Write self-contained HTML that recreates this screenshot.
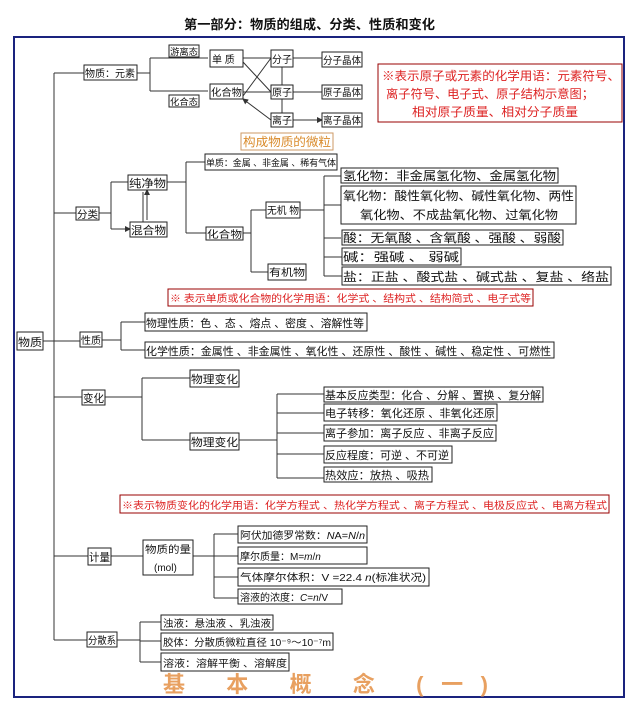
<!DOCTYPE html>
<html><head><meta charset="utf-8"><style>
html,body{margin:0;padding:0;background:#fff;}
svg text{font-family:"Liberation Sans","Noto Sans CJK SC","WenQuanYi Zen Hei",sans-serif;fill:#111;}
</style></head><body>
<svg width="640" height="710" viewBox="0 0 640 710" xmlns="http://www.w3.org/2000/svg">
<defs><marker id="a" markerWidth="6" markerHeight="6" refX="5" refY="3" orient="auto"><path d="M0,0 L6,3 L0,6 z" fill="#333"/></marker></defs>
<text x="184" y="29" font-size="13" font-weight="bold" textLength="251" lengthAdjust="spacingAndGlyphs">第一部分：物质的组成、分类、性质和变化</text>
<rect x="14" y="37" width="610" height="660" fill="none" stroke="#1a237e" stroke-width="2"/>
<g stroke="#333" stroke-width="1" fill="none">
<!-- trunk -->
<path d="M54 73V640 M54 73H84 M54 213H76 M43 341H80 M54 397H82 M54 556H88 M54 640H87"/>
<!-- element -->
<path d="M137 73H150 M150 58V91 M150 58H208 M150 91H208" />
<path d="M293 58H322 M293 92H322 M293 120H322" marker-end="url(#a)"/>
<path d="M271 58H243 M271 92H243 M282 85V67 M282 99V113 M271 92L243 62 M271 58L243 96 M271 120L243 99" marker-end="url(#a)"/>
<!-- classification -->
<path d="M99 213H111 M111 182V229"/>
<path d="M111 182H128 M111 229H130" marker-end="url(#a)"/>
<path d="M143 192V222 M147 220V190" marker-end="url(#a)"/>
<path d="M167 182H186 M186 162V233 M186 162H205 M186 233H206 M243 233H251 M251 210V272 M251 210H266 M251 272H268 M300 210H324 M324 176V276 M324 176H341 M324 205H341 M324 238H341 M324 257H342 M324 276H342"/>
<!-- properties -->
<path d="M102 340H121 M121 322V350 M121 322H145 M121 350H145"/>
<!-- change -->
<path d="M105 397H142 M142 378V440 M142 378H190 M142 440H190 M239 440H277 M277 394V478 M277 394H324 M277 413H324 M277 433H324 M277 454H324 M277 478H324"/>
<!-- amount -->
<path d="M111 556H143 M193 556H214 M214 534V598 M214 534H238 M214 556H238 M214 577H238 M214 598H238"/>
<!-- dispersion -->
<path d="M117 640H140 M140 622V662 M140 622H161 M140 641H161 M140 662H161"/>
</g>
<g fill="#fff" stroke="#222" stroke-width="1">
<rect x="84" y="65" width="53" height="15"/>
<rect x="169" y="45" width="30" height="12"/><rect x="169" y="95" width="30" height="12"/>
<rect x="210" y="50" width="33" height="17"/><rect x="210" y="84" width="33" height="15"/>
<rect x="271" y="50" width="22" height="17"/><rect x="271" y="85" width="22" height="14"/><rect x="271" y="113" width="22" height="14"/>
<rect x="322" y="52" width="40" height="15"/><rect x="322" y="85" width="40" height="14"/><rect x="322" y="113" width="40" height="14"/>
<rect x="378" y="64" width="244" height="58" stroke="#900"/>
<rect x="241" y="133" width="92" height="17" stroke="#c96"/>
<rect x="205" y="154" width="132" height="16"/>
<rect x="128" y="175" width="39" height="15"/><rect x="130" y="222" width="37" height="15"/>
<rect x="76" y="207" width="23" height="13"/>
<rect x="266" y="202" width="34" height="16"/><rect x="206" y="227" width="37" height="13"/><rect x="268" y="264" width="38" height="16"/>
<rect x="341" y="168" width="217" height="15"/><rect x="341" y="186" width="235" height="38"/>
<rect x="342" y="230" width="221" height="15"/><rect x="342" y="248" width="119" height="17"/><rect x="342" y="267" width="269" height="18"/>
<rect x="168" y="289" width="365" height="17" stroke="#900"/>
<rect x="17" y="332" width="26" height="18"/><rect x="80" y="332" width="22" height="15"/>
<rect x="145" y="313" width="222" height="18"/><rect x="145" y="342" width="409" height="16"/>
<rect x="82" y="390" width="23" height="15"/>
<rect x="190" y="370" width="49" height="17"/><rect x="190" y="433" width="49" height="17"/>
<rect x="324" y="387" width="219" height="15"/><rect x="324" y="404" width="173" height="17"/><rect x="324" y="425" width="172" height="16"/><rect x="324" y="446" width="128" height="17"/><rect x="324" y="467" width="108" height="15"/>
<rect x="120" y="495" width="489" height="18" stroke="#900"/>
<rect x="88" y="548" width="23" height="17"/><rect x="143" y="540" width="50" height="35"/>
<rect x="238" y="526" width="129" height="17"/><rect x="238" y="547" width="129" height="17"/><rect x="238" y="568" width="191" height="18"/><rect x="238" y="589" width="104" height="15"/>
<rect x="87" y="632" width="30" height="15"/>
<rect x="161" y="615" width="112" height="15"/><rect x="161" y="633" width="172" height="17"/><rect x="161" y="653" width="128" height="18"/>
</g>
<g font-size="10">
<text x="85" y="77" textLength="50" lengthAdjust="spacingAndGlyphs">物质：元素</text>
<text x="170" y="55" font-size="9" textLength="28" lengthAdjust="spacingAndGlyphs">游离态</text>
<text x="170" y="105" font-size="9" textLength="28" lengthAdjust="spacingAndGlyphs">化合态</text>
<text x="212" y="63">单 质</text><text x="211" y="96" textLength="31" lengthAdjust="spacingAndGlyphs">化合物</text>
<text x="272" y="63">分子</text><text x="272" y="96">原子</text><text x="272" y="124">离子</text>
<text x="323" y="64" textLength="38" lengthAdjust="spacingAndGlyphs">分子晶体</text>
<text x="323" y="96" textLength="38" lengthAdjust="spacingAndGlyphs">原子晶体</text>
<text x="323" y="124" textLength="38" lengthAdjust="spacingAndGlyphs">离子晶体</text>
<text x="206" y="166" font-size="9" textLength="130" lengthAdjust="spacingAndGlyphs">单质：金属 、非金属 、稀有气体</text>
<text x="129" y="187" font-size="11" textLength="37" lengthAdjust="spacingAndGlyphs">纯净物</text>
<text x="131" y="234" font-size="11" textLength="35" lengthAdjust="spacingAndGlyphs">混合物</text>
<text x="77" y="218" textLength="21" lengthAdjust="spacingAndGlyphs">分类</text>
<text x="267" y="214" textLength="32" lengthAdjust="spacingAndGlyphs">无机 物</text>
<text x="207" y="238" textLength="35" lengthAdjust="spacingAndGlyphs">化合物</text>
<text x="269" y="276" textLength="36" lengthAdjust="spacingAndGlyphs">有机物</text>
<text x="30" y="0"></text>
</g>
<g font-size="12">
<text x="343" y="180" textLength="213" lengthAdjust="spacingAndGlyphs">氢化物：非金属氢化物、金属氢化物</text>
<text x="343" y="200" textLength="231" lengthAdjust="spacingAndGlyphs">氧化物：酸性氧化物、碱性氧化物、两性</text>
<text x="360" y="219" textLength="198" lengthAdjust="spacingAndGlyphs">氧化物、不成盐氧化物、过氧化物</text>
<text x="343" y="242" textLength="218" lengthAdjust="spacingAndGlyphs">酸：无氧酸 、含氧酸 、强酸 、弱酸</text>
<text x="343" y="261" textLength="116" lengthAdjust="spacingAndGlyphs">碱：强碱  、 弱碱</text>
<text x="343" y="281" textLength="266" lengthAdjust="spacingAndGlyphs">盐：正盐 、酸式盐 、碱式盐 、复盐 、络盐</text>
<text x="382" y="80" fill="#d22" style="fill:#d22" textLength="238" lengthAdjust="spacingAndGlyphs">※表示原子或元素的化学用语：元素符号、</text>
<text x="386" y="98" style="fill:#d22" textLength="208" lengthAdjust="spacingAndGlyphs">离子符号、电子式、原子结构示意图；</text>
<text x="412" y="116" style="fill:#d22" textLength="166" lengthAdjust="spacingAndGlyphs">相对原子质量、相对分子质量</text>
<text x="243" y="146" style="fill:#d98a2a" textLength="88" lengthAdjust="spacingAndGlyphs">构成物质的微粒</text>
</g>
<g font-size="10">
<text x="170" y="302" style="fill:#d22" textLength="361" lengthAdjust="spacingAndGlyphs">※ 表示单质或化合物的化学用语：化学式 、结构式 、结构简式 、电子式等</text>
<text x="18" y="346" font-size="11" textLength="24" lengthAdjust="spacingAndGlyphs">物质</text>
<text x="81" y="344" textLength="20" lengthAdjust="spacingAndGlyphs">性质</text>
<text x="146" y="327" font-size="11" textLength="218" lengthAdjust="spacingAndGlyphs">物理性质：色 、态 、熔点 、密度 、溶解性等</text>
<text x="146" y="355" font-size="11" textLength="405" lengthAdjust="spacingAndGlyphs">化学性质：金属性 、非金属性 、氧化性 、还原性 、酸性 、碱性 、稳定性 、可燃性</text>
<text x="83" y="402" font-size="11" textLength="21" lengthAdjust="spacingAndGlyphs">变化</text>
<text x="191" y="383" font-size="11" textLength="47" lengthAdjust="spacingAndGlyphs">物理变化</text>
<text x="191" y="446" font-size="11" textLength="47" lengthAdjust="spacingAndGlyphs">物理变化</text>
<text x="325" y="399" font-size="11" textLength="216" lengthAdjust="spacingAndGlyphs">基本反应类型：化合 、分解 、置换 、复分解</text>
<text x="325" y="417" font-size="11" textLength="170" lengthAdjust="spacingAndGlyphs">电子转移：氧化还原 、非氧化还原</text>
<text x="325" y="437" font-size="11" textLength="169" lengthAdjust="spacingAndGlyphs">离子参加：离子反应 、非离子反应</text>
<text x="325" y="459" font-size="11" textLength="124" lengthAdjust="spacingAndGlyphs">反应程度：可逆 、不可逆</text>
<text x="325" y="479" font-size="11" textLength="104" lengthAdjust="spacingAndGlyphs">热效应：放热 、吸热</text>
<text x="122" y="509" style="fill:#d22" textLength="485" lengthAdjust="spacingAndGlyphs">※表示物质变化的化学用语：化学方程式 、热化学方程式 、离子方程式 、电极反应式 、电离方程式</text>
<text x="89" y="561" font-size="11" textLength="21" lengthAdjust="spacingAndGlyphs">计量</text>
<text x="145" y="553" font-size="10" textLength="46" lengthAdjust="spacingAndGlyphs">物质的量</text>
<text x="154" y="571" font-size="10">(mol)</text>
<text x="240" y="539" textLength="125" lengthAdjust="spacingAndGlyphs">阿伏加德罗常数：<tspan font-style="italic">N</tspan>A=<tspan font-style="italic">N</tspan>/<tspan font-style="italic">n</tspan></text>
<text x="240" y="560">摩尔质量：M=<tspan font-style="italic">m</tspan>/<tspan font-style="italic">n</tspan></text>
<text x="240" y="581" textLength="186" lengthAdjust="spacingAndGlyphs">气体摩尔体积：V =22.4 <tspan font-style="italic">n</tspan>(标准状况)</text>
<text x="240" y="601">溶液的浓度：<tspan font-style="italic">C</tspan>=<tspan font-style="italic">n</tspan>/V</text>
<text x="88" y="644" textLength="28" lengthAdjust="spacingAndGlyphs">分散系</text>
<text x="163" y="627" textLength="108" lengthAdjust="spacingAndGlyphs">浊液：悬浊液 、乳浊液</text>
<text x="163" y="646" textLength="168" lengthAdjust="spacingAndGlyphs">胶体：分散质微粒直径 10⁻⁹～10⁻⁷m</text>
<text x="163" y="667" textLength="124" lengthAdjust="spacingAndGlyphs">溶液：溶解平衡 、溶解度</text>
</g>
<text x="163" y="692" font-size="22" font-weight="bold" style="fill:#e8a060" textLength="325" lengthAdjust="spacing" font-family="'Noto Serif CJK SC',serif">基 本 概 念 (一)</text>
</svg>
</body></html>
